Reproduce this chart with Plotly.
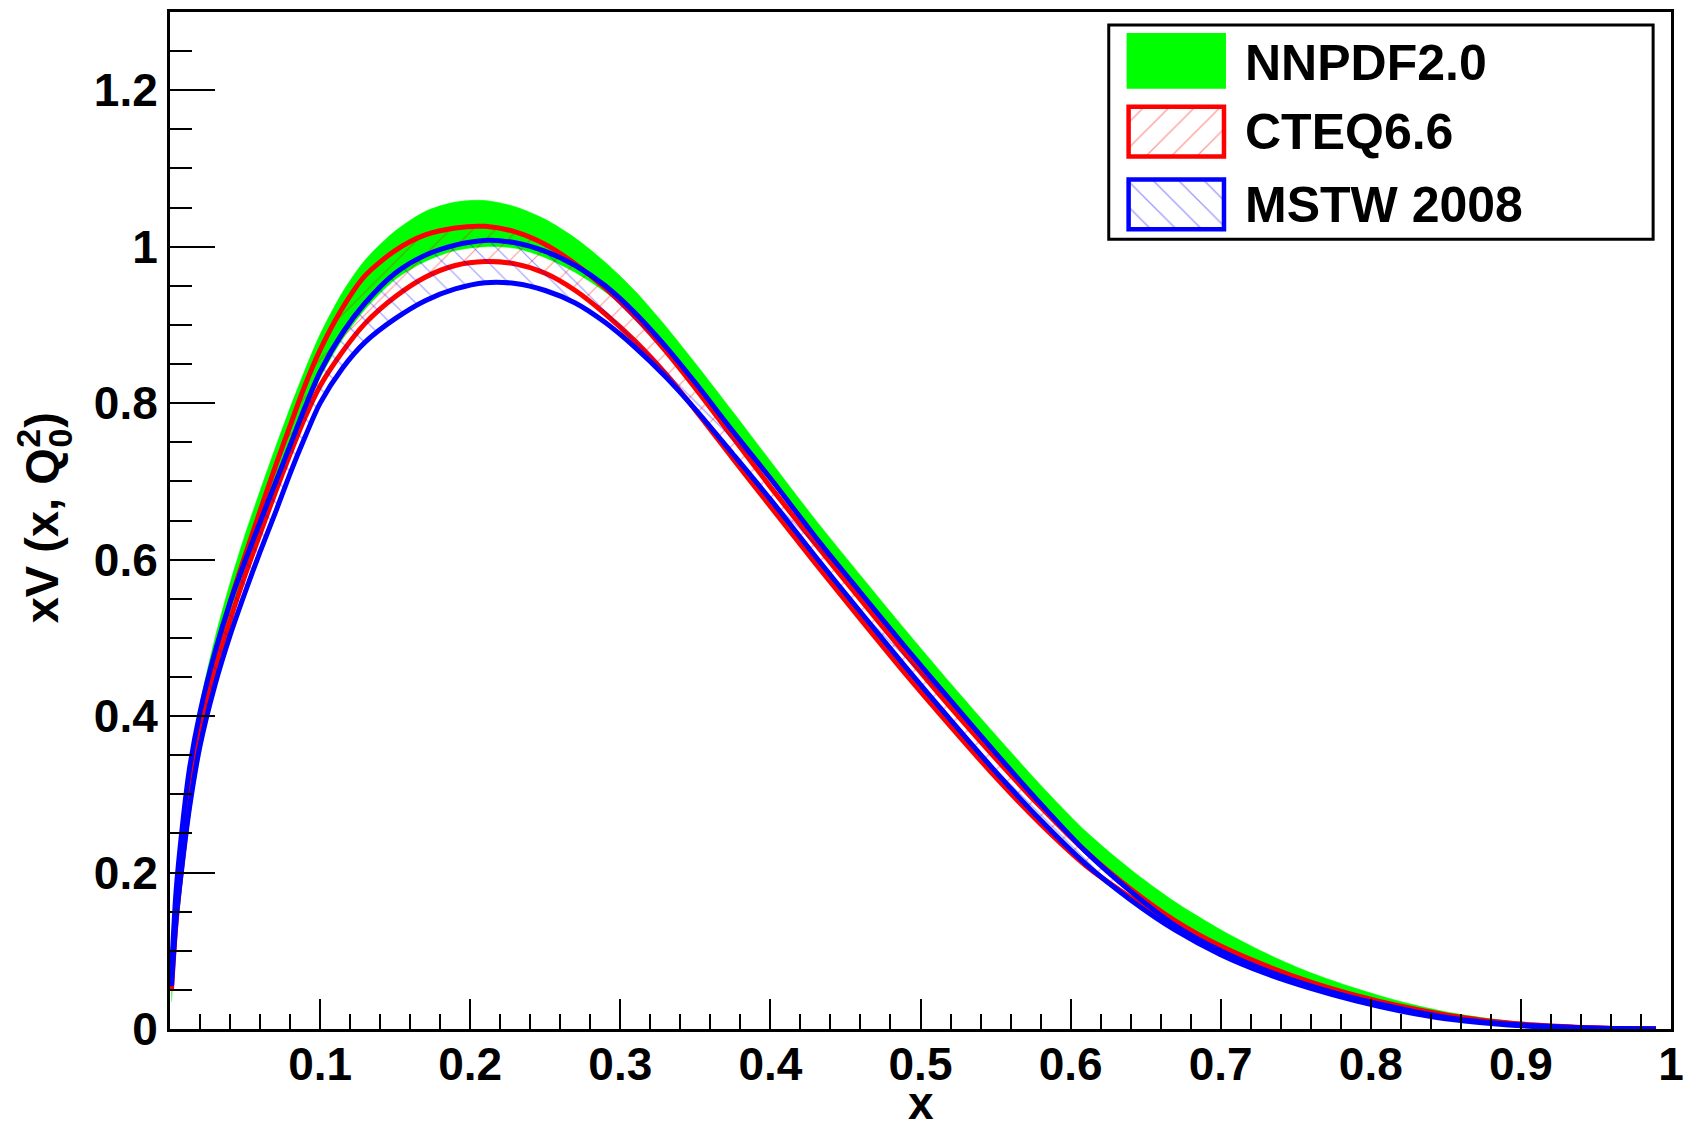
import plotly.graph_objects as go

# ---------------- data ----------------
x_grid = [0.001, 0.004, 0.008, 0.013, 0.02, 0.03, 0.04, 0.05, 0.06, 0.07,
          0.08, 0.09, 0.10, 0.115, 0.13, 0.15, 0.17, 0.19, 0.21, 0.23,
          0.25, 0.27, 0.29, 0.31, 0.33, 0.35, 0.375, 0.40, 0.43, 0.46,
          0.49, 0.52, 0.55, 0.58, 0.61, 0.64, 0.67, 0.70, 0.73, 0.76,
          0.79, 0.82, 0.85, 0.88, 0.91, 0.94, 0.97, 0.99]

nnpdf_upper = [0.082, 0.172, 0.250, 0.330, 0.415, 0.500, 0.570, 0.632, 0.688, 0.742,
               0.794, 0.843, 0.888, 0.942, 0.983, 1.020, 1.045, 1.057, 1.059, 1.051,
               1.035, 1.011, 0.980, 0.943, 0.899, 0.851, 0.789, 0.726, 0.651, 0.580,
               0.510, 0.442, 0.376, 0.312, 0.253, 0.204, 0.162, 0.127, 0.097, 0.072,
               0.052, 0.035, 0.022, 0.013, 0.0065, 0.0025, 0.0006, 0.0001]
nnpdf_lower = [0.035, 0.115, 0.190, 0.270, 0.350, 0.440, 0.515, 0.580, 0.635, 0.687,
               0.739, 0.787, 0.832, 0.882, 0.920, 0.958, 0.981, 0.995, 1.000, 0.998,
               0.986, 0.967, 0.942, 0.910, 0.869, 0.823, 0.761, 0.700, 0.626, 0.555,
               0.485, 0.417, 0.351, 0.288, 0.230, 0.182, 0.141, 0.108, 0.081, 0.059,
               0.042, 0.028, 0.017, 0.009, 0.0045, 0.0015, 0.0004, 0.0]

cteq_upper = [0.065, 0.150, 0.225, 0.305, 0.390, 0.475, 0.545, 0.605, 0.662, 0.718,
              0.771, 0.823, 0.868, 0.922, 0.963, 0.995, 1.015, 1.024, 1.026, 1.019,
              1.003, 0.978, 0.947, 0.910, 0.867, 0.819, 0.756, 0.693, 0.620, 0.549,
              0.479, 0.411, 0.346, 0.284, 0.227, 0.179, 0.138, 0.106, 0.081, 0.060,
              0.043, 0.029, 0.018, 0.010, 0.005, 0.002, 0.0005, 0.0001]
cteq_lower = [0.050, 0.135, 0.210, 0.288, 0.372, 0.455, 0.522, 0.580, 0.633, 0.685,
              0.735, 0.782, 0.822, 0.866, 0.902, 0.936, 0.961, 0.976, 0.981, 0.978,
              0.966, 0.944, 0.914, 0.879, 0.838, 0.791, 0.729, 0.668, 0.595, 0.524,
              0.454, 0.387, 0.322, 0.262, 0.209, 0.168, 0.132, 0.102, 0.078, 0.058,
              0.041, 0.027, 0.017, 0.009, 0.0045, 0.0017, 0.0004, 0.0001]

mstw_upper = [0.072, 0.175, 0.255, 0.333, 0.405, 0.482, 0.545, 0.598, 0.648, 0.697,
              0.746, 0.795, 0.840, 0.890, 0.928, 0.966, 0.989, 1.002, 1.008, 1.005,
              0.994, 0.976, 0.950, 0.915, 0.873, 0.826, 0.764, 0.704, 0.629, 0.558,
              0.488, 0.420, 0.353, 0.288, 0.227, 0.176, 0.132, 0.100, 0.075, 0.055,
              0.039, 0.026, 0.015, 0.008, 0.004, 0.0015, 0.0003, 0.0001]
mstw_lower = [0.055, 0.138, 0.208, 0.283, 0.362, 0.440, 0.503, 0.558, 0.610, 0.659,
              0.710, 0.757, 0.800, 0.845, 0.878, 0.908, 0.931, 0.946, 0.954, 0.953,
              0.944, 0.928, 0.903, 0.871, 0.834, 0.792, 0.735, 0.677, 0.604, 0.533,
              0.463, 0.395, 0.329, 0.267, 0.211, 0.165, 0.126, 0.095, 0.071, 0.052,
              0.036, 0.023, 0.013, 0.007, 0.003, 0.001, 0.0002, 0.0]

x_tick_vals = [0.1, 0.2, 0.3, 0.4, 0.5, 0.6, 0.7, 0.8, 0.9, 1.0]
x_tick_text = ["0.1", "0.2", "0.3", "0.4", "0.5", "0.6", "0.7", "0.8", "0.9", "1"]
legend_labels = ["NNPDF2.0", "CTEQ6.6", "MSTW 2008"]
x_title = "x"
# y title "xV (x, Q_0^2)" written ROOT-style with stacked sub/superscript
y_title_main = "xV (x, Q"
y_title_sup = "2"
y_title_sub = "0"
y_title_close = ")"

# ---------------- style / layout ----------------
W, H = 1693, 1131
ML, MR, MT, MB = 170, 12, 9, 102
GREEN, RED, BLUE = "#00ff00", "#ff0000", "#0000ff"
FONT = "Liberation Sans, Arial, Helvetica, sans-serif"
PW = W - ML - MR
PH = H - MT - MB
LINE_W = 5


def paper_x(px):
    return (px - ML) / PW


def paper_y(py):
    return (H - MB - py) / PH


def band(xs, up, lo):
    return list(xs) + list(xs[::-1]), list(up) + list(lo[::-1])


SPL = dict(shape="spline", smoothing=0.8)

fig = go.Figure()

# NNPDF band (solid green)
bx, by = band(x_grid, nnpdf_upper, nnpdf_lower)
fig.add_trace(go.Scatter(x=bx, y=by, mode="lines", fill="toself", fillcolor=GREEN,
                         line=dict(width=0.5, color=GREEN, **SPL),
                         hoverinfo="skip", showlegend=False))

# CTEQ band: hatch + two lines
bx, by = band(x_grid, cteq_upper, cteq_lower)
fig.add_trace(go.Scatter(x=bx, y=by, mode="lines", fill="toself",
                         fillcolor="rgba(0,0,0,0)",
                         fillpattern=dict(shape="/", fgcolor=RED, fgopacity=0.4,
                                          bgcolor="rgba(0,0,0,0)", size=16, solidity=0.07),
                         line=dict(width=0, color=RED, **SPL),
                         hoverinfo="skip", showlegend=False))
for ys in (cteq_upper, cteq_lower):
    fig.add_trace(go.Scatter(x=x_grid, y=ys, mode="lines",
                             line=dict(color=RED, width=LINE_W, **SPL),
                             hoverinfo="skip", showlegend=False))

# MSTW band: hatch + two lines
bx, by = band(x_grid, mstw_upper, mstw_lower)
fig.add_trace(go.Scatter(x=bx, y=by, mode="lines", fill="toself",
                         fillcolor="rgba(0,0,0,0)",
                         fillpattern=dict(shape="\\", fgcolor=BLUE, fgopacity=0.4,
                                          bgcolor="rgba(0,0,0,0)", size=16, solidity=0.07),
                         line=dict(width=0, color=BLUE, **SPL),
                         hoverinfo="skip", showlegend=False))
for ys in (mstw_upper, mstw_lower):
    fig.add_trace(go.Scatter(x=x_grid, y=ys, mode="lines",
                             line=dict(color=BLUE, width=LINE_W, **SPL),
                             hoverinfo="skip", showlegend=False))

# ---------------- hand-built ROOT-style legend (pixel overlay axes) ----------------
LX0, LX1, LY0, LY1 = 1115, 1663, 22, 237
swatch_x0, swatch_x1 = 1135, 1231
swatch_rows = [(32, 84), (104, 154), (177, 227)]
text_x = 1250
text_y = [60, 129, 203]

fig.add_shape(type="rect", xref="x2", yref="y2", x0=LX0, x1=LX1, y0=LY0, y1=LY1,
              line=dict(color="black", width=3), fillcolor="white", layer="below")
fig.add_shape(type="rect", xref="x2", yref="y2", x0=swatch_x0 - 1, x1=swatch_x1 + 1,
              y0=swatch_rows[0][0] - 1, y1=swatch_rows[0][1] + 1,
              line=dict(color=GREEN, width=2), fillcolor=GREEN, layer="above")
for (y0, y1), col, shp in ((swatch_rows[1], RED, "/"), (swatch_rows[2], BLUE, "\\")):
    fig.add_trace(go.Scatter(x=[swatch_x0, swatch_x1, swatch_x1, swatch_x0, swatch_x0],
                             y=[y0, y0, y1, y1, y0], xaxis="x2", yaxis="y2",
                             mode="lines", fill="toself", fillcolor="rgba(0,0,0,0)",
                             fillpattern=dict(shape=shp, fgcolor=col, fgopacity=0.4,
                                              bgcolor="rgba(0,0,0,0)", size=18, solidity=0.07),
                             line=dict(width=0), hoverinfo="skip", showlegend=False))
    fig.add_shape(type="rect", xref="x2", yref="y2", x0=swatch_x0, x1=swatch_x1,
                  y0=y0, y1=y1, line=dict(color=col, width=4.5), layer="above")

for lab, ty in zip(legend_labels, text_y):
    fig.add_annotation(x=text_x, y=ty, xref="x2", yref="y2", text=lab, showarrow=False,
                       xanchor="left", yanchor="middle",
                       font=dict(family=FONT, size=50, color="black", weight="bold"))

# x axis title
fig.add_annotation(x=0.5, y=paper_y(H), xref="paper", yref="paper", text=x_title,
                   showarrow=False, xanchor="center", yanchor="bottom",
                   font=dict(family=FONT, size=46, color="black", weight="bold"))

# y axis title, pieces placed along the rotated baseline
TFS, SFS = 47, 34
title_pieces = [
    (y_title_main, TFS, 41, 534),
    (y_title_sup, SFS, 27, 436),
    (y_title_sub, SFS, 59, 436),
    (y_title_close, TFS, 41, 418),
]
for txt, fs, cx, cy in title_pieces:
    fig.add_annotation(x=paper_x(cx), y=paper_y(cy), xref="paper", yref="paper", text=txt,
                       showarrow=False, textangle=-90, xanchor="center", yanchor="middle",
                       borderpad=0,
                       font=dict(family=FONT, size=fs, color="black", weight="bold"))

tickfont = dict(family=FONT, size=46, color="black", weight="bold")

fig.update_layout(
    width=W, height=H, autosize=False,
    margin=dict(l=ML, r=MR, t=MT, b=MB, pad=0),
    paper_bgcolor="white", plot_bgcolor="white",
    font=dict(family=FONT, color="black"),
    showlegend=False,
    xaxis=dict(range=[0, 1], tickmode="array", tickvals=x_tick_vals, ticktext=x_tick_text,
               ticks="inside", ticklen=30, tickwidth=2, tickcolor="black",
               ticklabelstandoff=-7, ticklabeloverflow="allow",
               minor=dict(dtick=0.02, tick0=0, ticks="inside", ticklen=15, tickwidth=2,
                          tickcolor="black"),
               showline=True, linewidth=3, linecolor="black", mirror=True,
               showgrid=False, zeroline=False, tickfont=tickfont, fixedrange=True),
    yaxis=dict(range=[0, 1.3], tick0=0, dtick=0.2,
               ticks="inside", ticklen=45, tickwidth=2, tickcolor="black",
               ticklabeloverflow="allow",
               minor=dict(dtick=0.05, tick0=0, ticks="inside", ticklen=22, tickwidth=2,
                          tickcolor="black"),
               showline=True, linewidth=3, linecolor="black", mirror=True,
               showgrid=False, zeroline=False, tickfont=tickfont, fixedrange=True),
    xaxis2=dict(domain=[0, 1], range=[ML, W - MR], anchor="y2", overlaying="x",
                visible=False, fixedrange=True),
    yaxis2=dict(domain=[0, 1], range=[H - MB, MT], anchor="x2", overlaying="y",
                visible=False, fixedrange=True),
)

fig.write_html("out.html")
